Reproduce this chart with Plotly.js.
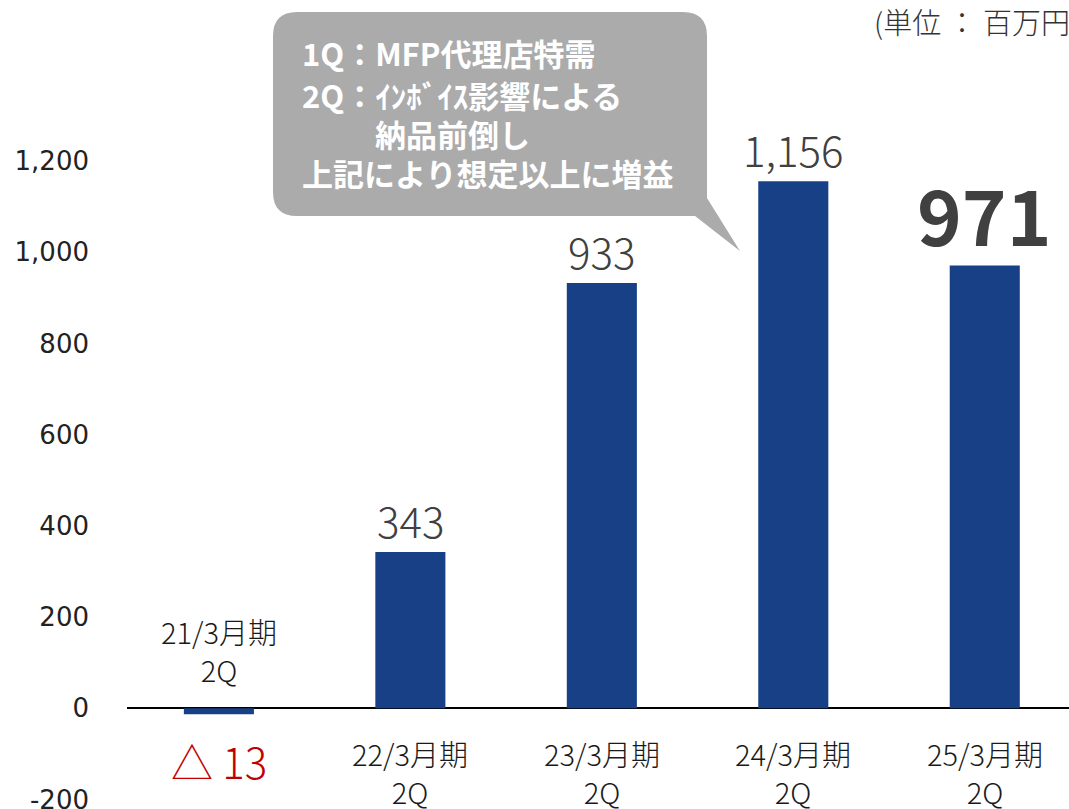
<!DOCTYPE html>
<html>
<head>
<meta charset="utf-8">
<script src="https://cdn.plot.ly/plotly-3.0.1.min.js"></script>
<style>
  body { margin: 0; background: #fff; }
  #plotArea { width: 1069px; height: 809px; }
</style>
</head>
<body>
<div id="plotArea"></div>
<script>
// data (unit: million yen)
var periods = ["21/3月期 2Q", "22/3月期 2Q", "23/3月期 2Q", "24/3月期 2Q", "25/3月期 2Q"];
var profit = [-13, 343, 933, 1156, 971];
var yTicks = [-200, 0, 200, 400, 600, 800, 1000, 1200];
var bubbleLines = ["1Q：MFP代理店特需", "2Q：ｲﾝﾎﾞｲｽ影響による", "納品前倒し", "上記により想定以上に増益"];

// plot box in pixels (y axis from -210 to 1400)
var L = 127, W = 942, T = 70, B = 803.6, H = B - T;
function px(x) { return (x - L) / W; }
function py(y) { return (B - y) / H; }
function P(x, y) { return px(x).toFixed(4) + ',' + py(y).toFixed(4); }

var jp = "Noto Sans CJK JP, Noto Sans, sans-serif";

var trace = {
    x: periods,
    y: profit,
    type: "bar",
    width: 0.366,
    marker: {color: "#174086"},
    hoverinfo: "none"
};

var annotations = [];

// category labels
periods.forEach(function (p, i) {
    var neg = profit[i] < 0;
    annotations.push({
        x: p, y: 0, xref: "x", yref: "y",
        text: p.replace(" ", "<br>"),
        showarrow: false,
        yanchor: neg ? "bottom" : "top",
        yshift: neg ? 16 : -22,
        font: {family: jp, size: 29, color: "#1a1a1a", weight: 300}
    });
});

// value labels
profit.forEach(function (v, i) {
    if (v < 0) {
        annotations.push({
            x: periods[i], y: v, xref: "x", yref: "y",
            text: "△ " + Math.abs(v),
            showarrow: false, yanchor: "top", yshift: -14,
            font: {family: jp, size: 42, color: "#C00000", weight: 300}
        });
        return;
    }
    var last = i === profit.length - 1;
    annotations.push({
        x: periods[i], y: v, xref: "x", yref: "y",
        text: v.toLocaleString("en-US"),
        showarrow: false, yanchor: "bottom", yshift: last ? -4 : 0,
        font: {family: jp, size: last ? 76 : 42, color: "#404040", weight: last ? "bold" : 300}
    });
});

// callout text
var lineY = [53, 94, 133, 172];
var lineX = [300, 300, 373, 300];
bubbleLines.forEach(function (t, i) {
    annotations.push({
        x: px(lineX[i]), y: py(lineY[i]), xref: "paper", yref: "paper",
        text: t, showarrow: false, xanchor: "left", yanchor: "middle",
        font: {family: jp, size: 31, color: "#ffffff", weight: "bold"}
    });
});

// unit note
annotations.push({
    x: px(872), y: py(21), xref: "paper", yref: "paper",
    text: "(単位 ： 百万円)", showarrow: false, xanchor: "left", yanchor: "middle",
    font: {family: jp, size: 29, color: "#333333", weight: 300}
});

// speech bubble
var r = 24, bl = 273, br = 707, bt = 12, bb = 216;
var bubble = "M" + P(bl + r, bt) + " L" + P(br - r, bt) + " Q" + P(br, bt) + " " + P(br, bt + r) +
    " L" + P(br, 198) + " L" + P(740, 251) + " L" + P(695, bb) +
    " L" + P(bl + r, bb) + " Q" + P(bl, bb) + " " + P(bl, bb - r) +
    " L" + P(bl, bt + r) + " Q" + P(bl, bt) + " " + P(bl + r, bt) + " Z";

var layout = {
    width: 1069,
    height: 809,
    margin: {l: L, r: 0, t: T, b: 809 - B},
    paper_bgcolor: "#ffffff",
    plot_bgcolor: "#ffffff",
    showlegend: false,
    xaxis: {
        type: "category",
        range: [-0.48, 4.44],
        showticklabels: false,
        showgrid: false,
        zeroline: false,
        showline: false,
        fixedrange: true
    },
    yaxis: {
        range: [-210, 1400],
        tickvals: yTicks,
        ticktext: yTicks.map(function (v) { return v.toLocaleString("en-US"); }),
        showgrid: false,
        zeroline: true,
        zerolinecolor: "#000000",
        zerolinewidth: 2,
        ticklabelstandoff: 37,
        ticklabeloverflow: "allow",
        tickfont: {family: "DejaVu Sans, Liberation Sans, sans-serif", size: 26, color: "#222222"},
        fixedrange: true
    },
    shapes: [{
        type: "path", xref: "paper", yref: "paper",
        path: bubble,
        fillcolor: "#ABABAB",
        line: {width: 0},
        layer: "above"
    }],
    annotations: annotations
};

Plotly.newPlot("plotArea", [trace], layout, {displayModeBar: false, staticPlot: true});
</script>
</body>
</html>
